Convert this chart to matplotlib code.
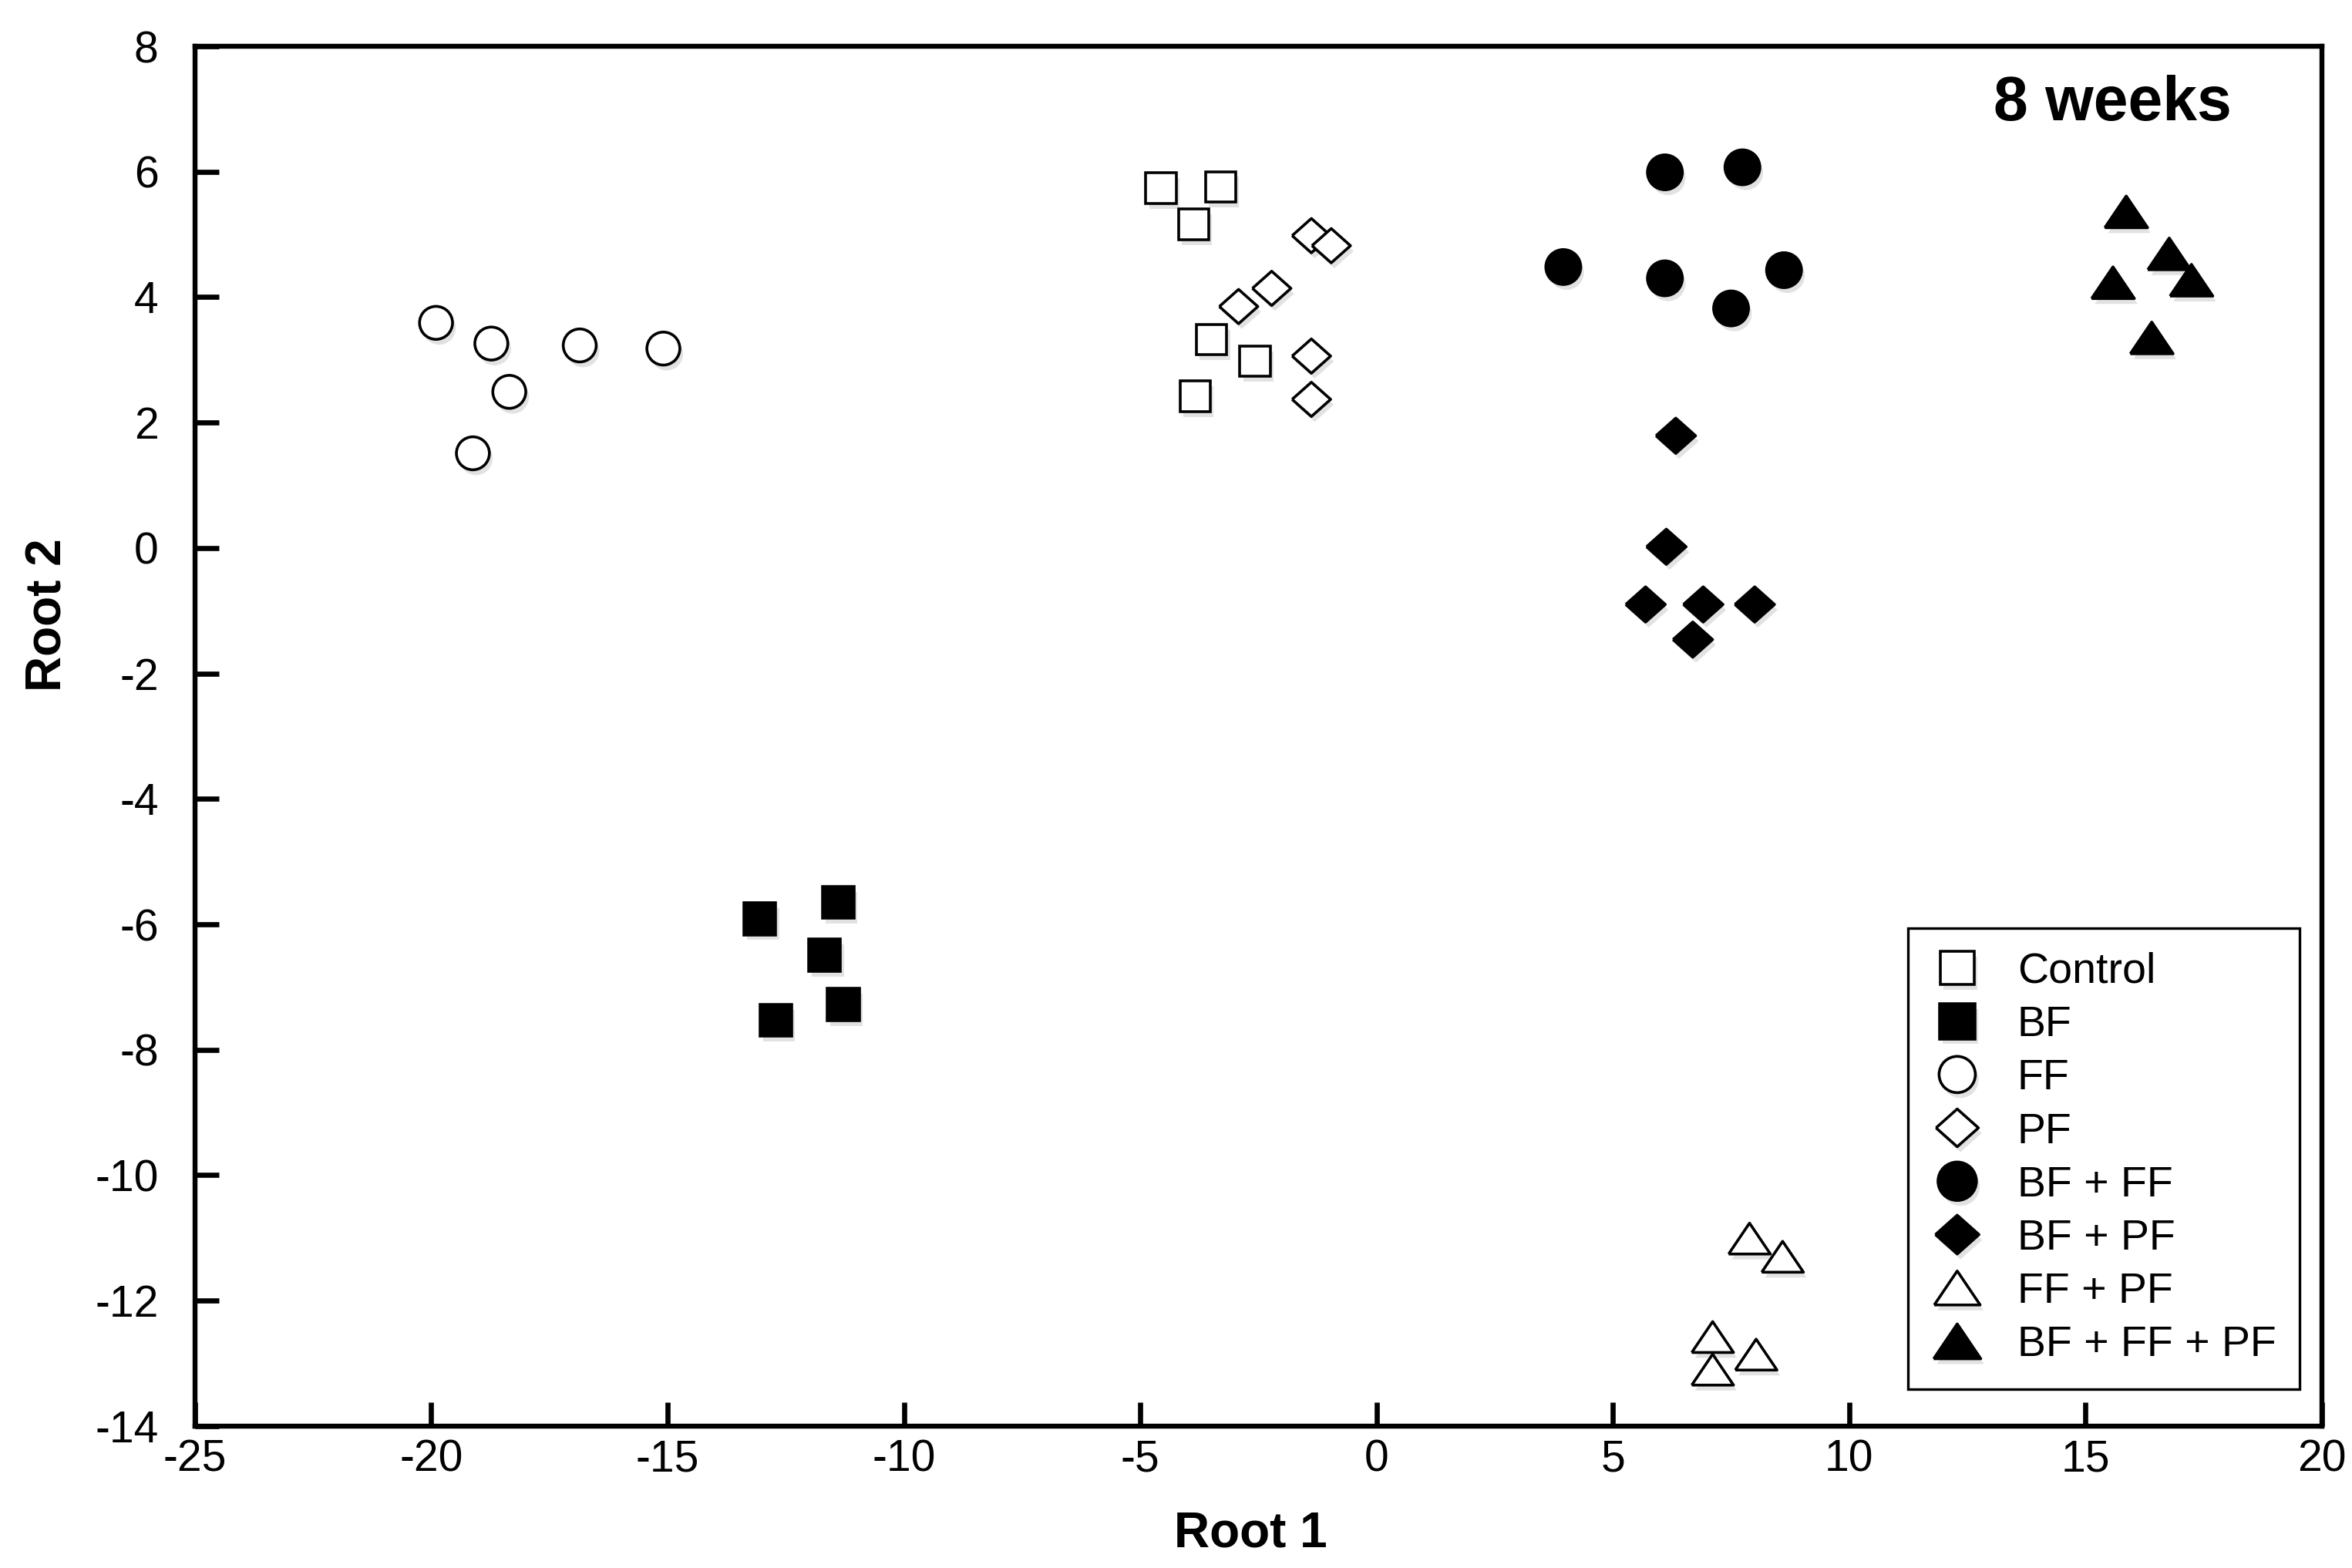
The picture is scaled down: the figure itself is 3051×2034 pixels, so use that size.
import numpy as np
import matplotlib.pyplot as plt
import matplotlib.patheffects as pe

plt.rcParams['font.family'] = ['Liberation Sans', 'DejaVu Sans']
plt.rcParams['axes.unicode_minus'] = False

# group scores (Root 1, Root 2)
control_x = [-4.56, -3.30, -3.87, -3.49, -2.57, -3.84]
control_y = [5.74, 5.76, 5.16, 3.32, 2.98, 2.42]

bf_x = [-13.05, -11.39, -11.68, -11.28, -12.71]
bf_y = [-5.91, -5.65, -6.49, -7.28, -7.53]

ff_x = [-19.9, -18.73, -16.86, -15.09, -18.35, -19.12]
ff_y = [3.59, 3.26, 3.23, 3.18, 2.49, 1.51]

pf_x = [-1.38, -0.96, -2.22, -2.92, -1.38, -1.38]
pf_y = [4.98, 4.82, 4.14, 3.85, 3.06, 2.37]

bf_ff_x = [6.10, 7.74, 3.95, 6.10, 7.50, 8.62]
bf_ff_y = [5.99, 6.07, 4.48, 4.30, 3.82, 4.43]

bf_pf_x = [6.33, 6.13, 5.69, 6.91, 8.00, 6.69]
bf_pf_y = [1.79, 0.02, -0.90, -0.90, -0.90, -1.46]

ff_pf_x = [7.89, 8.59, 7.11, 7.11, 8.03]
ff_pf_y = [-11.01, -11.30, -12.58, -13.10, -12.86]

bf_ff_pf_x = [15.86, 16.77, 17.24, 15.58, 16.40]
bf_ff_pf_y = [5.36, 4.69, 4.27, 4.23, 3.35]

labels = ['Control', 'BF', 'FF', 'PF', 'BF + FF', 'BF + PF', 'FF + PF', 'BF + FF + PF']

x_ticks = np.arange(-25, 21, 5)
y_ticks = np.arange(-14, 9, 2)

diamond = [(-1, 0), (0, 0.89), (1, 0), (0, -0.89), (-1, 0)]
triangle = [(-1, -0.74), (1, -0.74), (0, 0.74), (-1, -0.74)]

groups = [
    (control_x, control_y, 's', 'white', 14.2),
    (bf_x, bf_y, 's', 'black', 15.0),
    (ff_x, ff_y, 'o', 'white', 15.4),
    (pf_x, pf_y, diamond, 'white', 18.0),
    (bf_ff_x, bf_ff_y, 'o', 'black', 16.3),
    (bf_pf_x, bf_pf_y, diamond, 'black', 18.5),
    (ff_pf_x, ff_pf_y, triangle, 'white', 19.5),
    (bf_ff_pf_x, bf_ff_pf_y, triangle, 'black', 20.0),
]

fig = plt.figure(figsize=(15.255, 10.17), dpi=200)
ax = fig.add_axes([0.0829, 0.0905, 0.9043, 0.88])

shadow = [pe.SimplePatchShadow(offset=(1.5, -2.5), shadow_rgbFace='0.55', alpha=0.25), pe.Normal()]

for (gx, gy, marker, face, size), name in zip(groups, labels):
    ax.plot(gx, gy, linestyle='none', marker=marker, ms=size,
            mfc=face, mec='black', mew=1.3, label=name, path_effects=shadow)

ax.set_xlim(-25, 20)
ax.set_ylim(-14, 8)
ax.set_xticks(x_ticks)
ax.set_yticks(y_ticks)

for s in ax.spines.values():
    s.set_linewidth(2.3)

ax.tick_params(axis='both', direction='in', length=11, width=2.4, labelsize=20.5)
ax.tick_params(axis='y', pad=17)
ax.tick_params(axis='x', pad=6)

ax.set_xlabel('Root 1', fontsize=23, fontweight='bold')
ax.set_ylabel('Root 2', fontsize=23, fontweight='bold')
ax.xaxis.set_label_coords(0.4965, -0.061)
ax.yaxis.set_label_coords(-0.058, 0.588)

ax.text(0.9576, 0.9465, '8 weeks', transform=ax.transAxes, ha='right',
        va='baseline', fontsize=29, fontweight='bold')

leg = ax.legend(loc='lower right', bbox_to_anchor=(0.9895, 0.0268), borderaxespad=0,
                fontsize=20, numpoints=1, handlelength=1.2, handletextpad=0.8,
                borderpad=0.55, labelspacing=0.31, fancybox=False, shadow=False,
                framealpha=1, markerscale=1.1)
leg.get_frame().set_edgecolor('black')
leg.get_frame().set_linewidth(1.2)

fig.savefig('out.png', dpi=200)
